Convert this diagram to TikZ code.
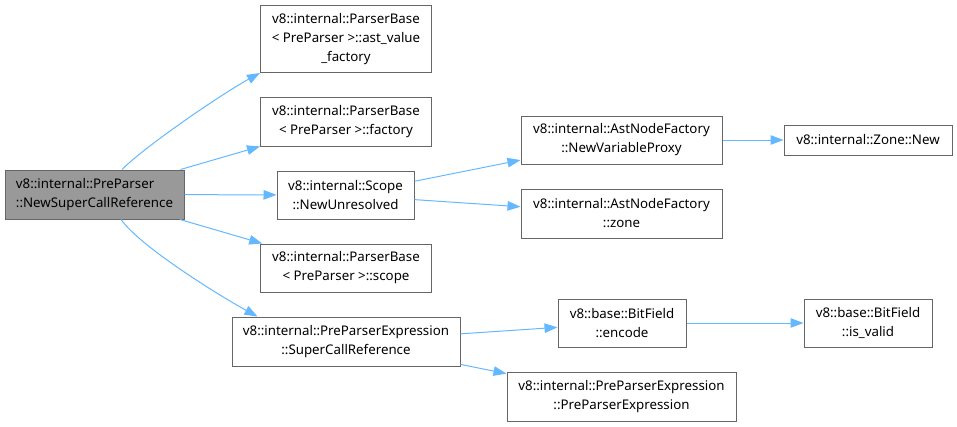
\documentclass[tikz,border=0pt]{standalone}
\usepackage{fontspec}
\setmainfont{Noto Sans}
\usetikzlibrary{arrows.meta}

\definecolor{edgeblue}{HTML}{63B8FF}
\definecolor{framegray}{HTML}{666666}
\definecolor{rootgray}{HTML}{999999}

\begin{document}
\begin{tikzpicture}[
    x=1pt, y=-1pt,
    font=\fontsize{13.3}{19}\selectfont,
    fn/.style={draw=framegray, fill=white, line width=1pt, align=center, inner sep=2pt},
    sz/.style 2 args={minimum width=#1pt, minimum height=#2pt},
    call/.style={-{Triangle[length=13pt, width=9.5pt]}, draw=edgeblue, line width=1pt},
  ]
  \useasboundingbox (0,0) rectangle (957,426);

  % --- Caller (left) ---
  \node[fn, sz={179}{49}, fill=rootgray, align=left] (root) at (94.5,194.5)
    {v8::internal::PreParser\\::NewSuperCallReference};

  % --- Direct callees ---
  \node[fn, sz={171}{67}] (avf) at (346,39)
    {v8::internal::ParserBase\\< PreParser >::ast\_value\\\_factory};
  \node[fn, sz={171}{49}] (fac) at (346,121.5)
    {v8::internal::ParserBase\\< PreParser >::factory};
  \node[fn, sz={137}{48}] (scp) at (345.5,195)
    {v8::internal::Scope\\::NewUnresolved};
  \node[fn, sz={171}{48}] (psc) at (346,268)
    {v8::internal::ParserBase\\< PreParser >::scope};
  \node[fn, sz={228}{49}] (scr) at (346,341.5)
    {v8::internal::PreParserExpression\\::SuperCallReference};

  % --- Second level ---
  \node[fn, sz={201}{48}] (nvp) at (621.5,140)
    {v8::internal::AstNodeFactory\\::NewVariableProxy};
  \node[fn, sz={201}{49}] (zon) at (621.5,213.5)
    {v8::internal::AstNodeFactory\\::zone};
  \node[fn, sz={128}{48}] (enc) at (622,323)
    {v8::base::BitField\\::encode};
  \node[fn, sz={229}{49}] (ppe) at (621.5,396.5)
    {v8::internal::PreParserExpression\\::PreParserExpression};

  % --- Third level ---
  \node[fn, sz={168}{30}] (znew) at (868,140) {v8::internal::Zone::New};
  \node[fn, sz={128}{48}] (isv) at (868,323)
    {v8::base::BitField\\::is\_valid};

  % --- Calls ---
  \draw[call] ([xshift=27.5pt]root.north) .. controls +(25,-25) and +(-35,19) .. (avf.south west);
  \draw[call] (root) -- (fac);
  \draw[call] (root) -- (scp);
  \draw[call] (root) -- (psc);
  \draw[call] ([xshift=26.5pt]root.south) .. controls +(20,28) and +(-35,-19) .. ([xshift=26pt]scr.north west);
  \draw[call] (scp) -- (nvp);
  \draw[call] (scp) -- (zon);
  \draw[call] (nvp) -- (znew);
  \draw[call] (scr) -- (enc);
  \draw[call] (scr) -- (ppe);
  \draw[call] (enc) -- (isv);
\end{tikzpicture}
\end{document}
